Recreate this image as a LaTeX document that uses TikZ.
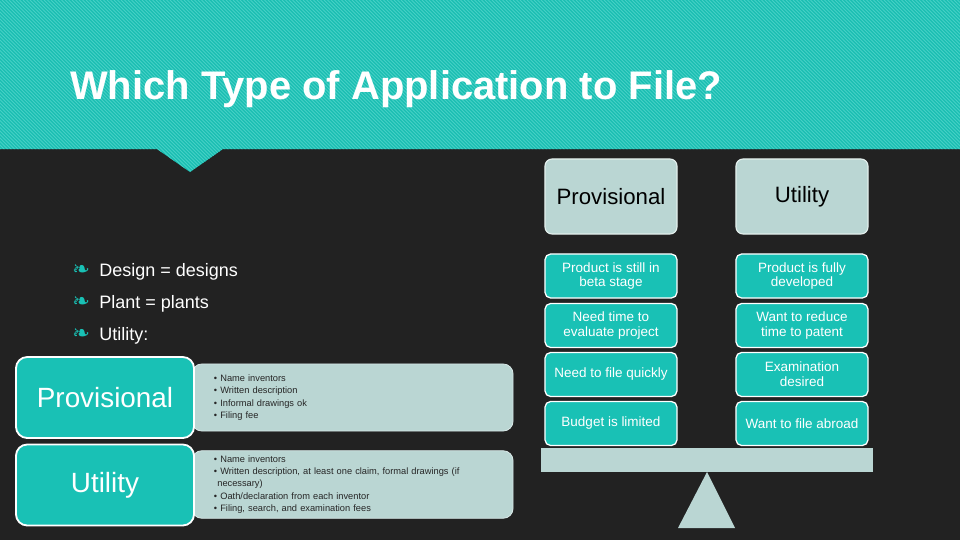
\documentclass[tikz,border=0pt]{standalone}
\usepackage{fontspec}
\setmainfont{Liberation Sans}
\newfontfamily\dingfont{DejaVu Sans}
\definecolor{bgdark}{RGB}{34,34,34}
\definecolor{tealbox}{RGB}{25,193,181}
\definecolor{tealband}{RGB}{26,190,178}
\definecolor{tealstripe}{RGB}{70,208,198}
\definecolor{greybox}{RGB}{186,214,211}

\begin{document}
\begin{tikzpicture}[x=0.025cm, y=-0.025cm,
    choice/.style={rounded corners=4pt, fill=tealbox, draw=white, line width=0.9pt,
      text=white, align=center, minimum width=3.3cm, minimum height=1.1cm,
      font=\fontsize{9.6}{10.6}\selectfont},
    headbox/.style={rounded corners=5pt, fill=greybox, draw=white!60!greybox, line width=0.8pt,
      text=black, minimum width=3.3cm, minimum height=1.875cm,
      font=\fontsize{15.8}{18}\selectfont},
    kindbox/.style={rounded corners=8pt, fill=tealbox, draw=white, line width=1.3pt,
      text=white, minimum width=4.45cm, minimum height=2.025cm,
      font=\fontsize{19.8}{22}\selectfont},
    listbox/.style={rounded corners=7pt, fill=greybox, draw=white!40!greybox, line width=0.6pt,
      text=black!85, align=left, minimum width=8.025cm, minimum height=1.675cm,
      text width=6.925cm, inner xsep=0.55cm, font=\fontsize{6.6}{8.8}\selectfont},
    point/.style={anchor=base west, inner sep=0pt, text=white, font=\fontsize{12.8}{15}\selectfont},
    leaf/.style={inner sep=0pt, text=tealbox, font=\dingfont\fontsize{15}{15}\selectfont}]
  \useasboundingbox (0,0) rectangle (960,540);
  \fill[bgdark] (0,0) rectangle (960,540);

  % striped title band with pointer
  \begin{scope}
    \clip (0,0) -- (960,0) -- (960,149) -- (223,149) -- (190,172) -- (157,149) -- (0,149) -- cycle;
    \fill[tealband] (0,0) rectangle (960,175);
    \foreach \i in {-180,-176.5,...,960}
      \draw[tealstripe, line width=0.55pt] (\i,0) -- ++(180,180);
  \end{scope}
  \node[anchor=base west, inner sep=0pt, text=white, font=\bfseries\fontsize{28.4}{32}\selectfont]
    (title) at (70,99) {Which Type of Application to File?};

  % bullet list
  \node[point] (design) at (99,276.7) {Design = designs};
  \node[point] (plant) at (99,308.3) {Plant = plants};
  \node[point] (util) at (99,340.7) {Utility:};
  \node[leaf, anchor=west] (leafa) at (72,271) {❧};
  \node[leaf, anchor=west] (leafb) at (72,302.5) {❧};
  \node[leaf, anchor=west] (leafc) at (72,335) {❧};

  % kinds of application
  \node[listbox] (provlist) at (352.5,397.5) {%
    • Name inventors\\
    • Written description\\
    • Informal drawings ok\\
    • Filing fee};
  \node[listbox] (utillist) at (352.5,484.5) {%
    • Name inventors\\
    • Written description, at least one claim, formal drawings (if\\
    \hspace*{2.4pt}necessary)\\
    • Oath/declaration from each inventor\\
    • Filing, search, and examination fees};
  \node[kindbox] (prov) at (105,397.5) {Provisional};
  \node[kindbox] (utility) at (105,485) {Utility};

  % balance: headings
  \node[headbox] (hprov) at (611,196.5) {Provisional};
  \node[headbox] (hutil) at (802,196.5) {Utility};

  % reasons, provisional side
  \node[choice] (pa) at (611,276) {Product is still in\\beta stage};
  \node[choice] (pb) at (611,325.5) {Need time to\\evaluate project};
  \node[choice] (pc) at (611,374.5) {Need to file quickly};
  \node[choice] (pd) at (611,423.5) {Budget is limited};

  % reasons, utility side
  \node[choice] (ua) at (802,276) {Product is fully\\developed};
  \node[choice] (ub) at (802,325.5) {Want to reduce\\time to patent};
  \node[choice] (uc) at (802,374.5) {Examination\\desired};
  \node[choice] (ud) at (802,423.5) {Want to file abroad};

  % beam and fulcrum
  \fill[greybox] (541,448) rectangle (873,472);
  \fill[greybox] (707,472) -- (735,528) -- (678,528) -- cycle;
\end{tikzpicture}
\end{document}
